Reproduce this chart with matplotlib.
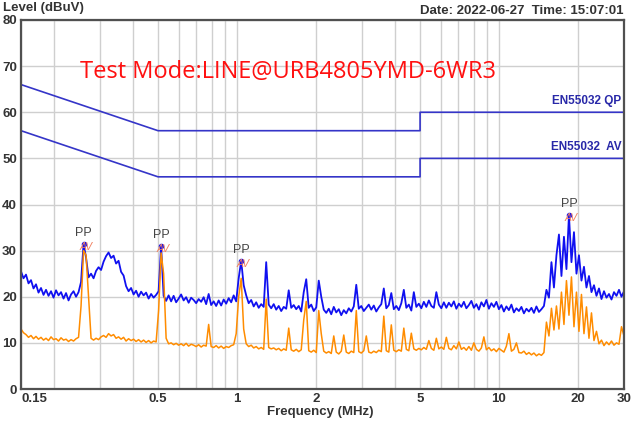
import numpy as np
import matplotlib
matplotlib.use("Agg")
import matplotlib.pyplot as plt
from matplotlib.ticker import FixedLocator, NullFormatter, LogLocator

plt.rcParams['font.family'] = ['Liberation Sans Narrow', 'Liberation Sans', 'DejaVu Sans']

# sweep: 242 points, log spaced from 0.15 MHz to 30 MHz (receiver scan grid)
n_pts = 242
f_start, f_stop = 0.15, 30.0

# peak detector trace (blue), dBuV
pk_level = [
    25.5, 24.0, 24.8, 22.9, 23.6, 21.8, 22.7, 20.9, 21.9, 20.4,
    21.5, 20.2, 21.2, 19.8, 21.4, 20.3, 21.0, 19.6, 20.8, 19.2,
    20.5, 21.2, 20.0, 21.0, 23.2, 31.5, 28.5, 24.2, 25.0, 24.0,
    25.6, 26.4, 25.8, 27.6, 28.8, 29.6, 28.4, 28.9, 27.2, 27.8,
    25.4, 24.6, 22.3, 21.2, 21.9, 20.5, 21.3, 20.0, 21.1, 20.3,
    20.9, 19.6, 20.6, 19.8, 20.4, 21.2, 31.0, 20.2, 19.1, 20.3,
    19.0, 20.2, 18.8, 19.6, 20.5, 19.2, 19.9, 18.7, 19.8, 19.3,
    18.6, 19.5, 18.9, 19.9, 18.4, 20.6, 18.2, 19.0, 18.0, 19.2,
    18.1, 19.4, 18.5, 19.7, 18.8, 20.3, 19.0, 24.0, 27.8, 22.5,
    20.3, 18.6, 19.3, 17.9, 18.8, 17.6, 18.4, 17.8, 27.5, 18.3,
    17.5, 18.4, 17.2, 18.0, 16.9, 17.8, 17.4, 21.4, 17.6, 18.2,
    17.3, 18.0, 16.8, 21.0, 23.8, 17.6, 18.3, 16.9, 17.7, 23.5,
    20.0, 17.2, 16.5, 17.4, 16.2, 17.8, 16.6, 17.3, 16.0, 17.1,
    16.4, 17.5, 16.8, 17.9, 22.6, 17.4, 18.0, 16.9, 17.6, 18.3,
    17.2, 18.1, 16.8, 17.7, 18.4, 21.8, 17.5, 18.2, 20.8, 17.3,
    18.0, 17.1, 18.6, 21.5, 17.6, 18.3, 17.0, 21.0, 17.8, 18.5,
    17.5, 18.9, 17.8, 19.2, 18.0, 17.6, 21.0, 18.3, 17.5, 18.8,
    17.6, 18.7, 17.9, 19.0, 17.4, 18.5, 17.8, 18.9, 17.5, 18.2,
    19.1, 17.6, 18.4, 17.2, 18.8, 17.9, 19.3, 17.4, 18.6, 17.8,
    18.9, 17.3, 18.2, 16.8, 17.9, 17.1, 18.3, 16.6, 17.5, 16.9,
    17.8, 16.4, 17.4, 16.8, 17.6, 16.5, 17.9, 16.7, 17.3, 18.0,
    21.5, 19.8, 27.5, 22.0, 29.0, 33.5, 24.5, 33.0, 26.0, 37.7,
    27.5, 34.0, 25.0, 29.0, 23.5, 26.5, 22.0, 24.5, 21.0, 22.5,
    20.2, 21.8, 19.5, 21.2, 19.8, 20.6, 19.4, 21.0, 20.2, 21.5,
    20.0, 21.2,
]

# average detector trace (orange), dBuV
av_level = [
    13.0, 12.2, 11.8, 11.2, 11.6, 10.9, 11.4, 10.8, 11.2, 10.6,
    11.0, 10.5, 11.3, 10.7, 10.9, 10.4, 11.1, 10.6, 10.8, 10.3,
    10.7, 10.4, 10.9, 11.2, 18.0, 30.0, 29.0, 20.0, 11.0, 10.6,
    11.0, 10.7, 11.3, 11.6, 11.2, 12.0, 11.5, 11.8, 11.0, 11.3,
    10.8, 11.2, 10.4, 10.9, 10.5, 10.8, 10.3, 10.7, 10.2, 10.6,
    10.1, 10.5, 10.0, 10.4, 10.2, 17.0, 29.5, 25.0, 11.0, 9.8,
    10.0, 9.6, 9.9, 9.5, 9.8, 9.4, 9.9, 9.3, 9.7, 9.5,
    9.2, 9.6, 9.1, 9.5, 9.3, 14.0, 9.2, 9.0, 9.4, 8.9,
    9.3, 8.8, 9.2, 9.0, 9.4, 9.6, 12.0, 20.0, 24.0, 13.0,
    9.8, 9.2, 9.5, 8.9, 9.2, 8.7, 9.0, 8.6, 19.5, 9.0,
    8.7, 8.9, 8.5, 8.8, 8.3, 8.7, 8.4, 13.2, 8.5, 8.2,
    8.6, 8.1, 8.5, 15.0, 19.0, 8.3, 8.0, 8.4, 7.9, 17.0,
    12.0, 8.2, 7.8, 8.1, 7.7, 11.5, 8.0, 7.6, 8.2, 11.7,
    8.0, 7.7, 8.2, 7.9, 17.0, 8.1, 7.8, 8.3, 11.5, 8.0,
    7.8, 8.2, 7.9, 8.4, 8.1, 15.8, 8.3, 8.0, 13.9, 8.4,
    8.1, 8.5, 8.2, 13.2, 8.6, 8.3, 12.1, 8.7, 8.4, 8.8,
    8.5, 9.0, 8.6, 10.5, 8.8, 8.4, 11.0, 8.7, 9.1, 8.6,
    11.2, 8.8, 8.5, 9.4, 8.7, 10.2, 8.6, 9.0, 8.4, 9.2,
    8.4, 10.0, 8.6, 8.2, 8.9, 11.3, 8.5, 9.0, 8.3, 8.7,
    8.1, 8.8, 8.4, 8.0, 9.3, 12.0, 8.2, 8.6, 10.0, 7.9,
    7.8, 8.2, 7.5, 7.9, 7.4, 7.8, 7.2, 7.6, 7.3, 7.9,
    14.5, 11.5, 17.5, 12.8, 18.0, 13.0, 21.0, 14.0, 23.5, 16.0,
    24.3, 13.5, 21.0, 12.5, 20.5, 12.0, 17.8, 11.0, 16.5, 10.5,
    12.5, 9.8, 10.6, 9.4, 10.2, 9.6, 10.4, 9.5, 10.0, 9.7,
    13.5, 11.5,
]

# EN55032 class B limits
lim_freq = [0.15, 0.5, 5.0, 5.0, 30.0]
qp_limit = [66, 56, 56, 60, 60]
av_limit = [56, 46, 46, 50, 50]

# marked peaks (index into the sweep)
peak_idx = [25, 56, 88, 219]

x_ticks = [0.15, 0.5, 1, 2, 5, 10, 20, 30]
x_ticklabels = ['0.15', '0.5', '1', '2', '5', '10', '20', '30']
y_ticks = [0, 10, 20, 30, 40, 50, 60, 70, 80]

freq = np.geomspace(f_start, f_stop, n_pts)
pk = np.array(pk_level)
av = np.array(av_level)

fig = plt.figure(figsize=(6.33, 4.25), dpi=100)
ax = fig.add_axes([21/633, 1-389/425, 603/633, 369/425])

ax.set_xscale('log')
ax.set_xlim(f_start, f_stop)
ax.set_ylim(0, 80)

ax.xaxis.set_major_locator(FixedLocator(x_ticks))
ax.xaxis.set_minor_locator(LogLocator(base=10, subs=np.arange(2, 10)))
ax.xaxis.set_minor_formatter(NullFormatter())
ax.set_xticklabels(x_ticklabels)
ax.set_yticks(y_ticks)
ax.grid(True, which='both', axis='x', color='#cfcfcf', lw=1.0)
ax.grid(True, which='major', axis='y', color='#cfcfcf', lw=1.0)
ax.set_axisbelow(True)
ax.tick_params(which='both', length=0, labelsize=9.5, pad=3)
for lab in ax.get_xticklabels() + ax.get_yticklabels():
    lab.set_fontweight('bold')
    lab.set_color('#333333')
ax.get_xticklabels()[0].set_horizontalalignment('left')
for sp in ax.spines.values():
    sp.set_color('#505050')
    sp.set_linewidth(1.6)

# limit lines
ax.plot(lim_freq, qp_limit, color='#3535c8', lw=1.2)
ax.plot(lim_freq, av_limit, color='#3535c8', lw=1.2)
ax.text(29.3, 61.2, 'EN55032 QP', color='#2828a8', fontsize=8.5,
        fontweight='bold', ha='right', va='bottom')
ax.text(29.3, 51.2, 'EN55032  AV', color='#2828a8', fontsize=8.5,
        fontweight='bold', ha='right', va='bottom')

# traces
ax.plot(freq, pk, color='#1010f0', lw=1.3)
ax.plot(freq, av, color='#ff8c00', lw=1.1)

# peak markers
for i in peak_idx:
    ax.plot(freq[i], pk[i], 'o', color='#1010f0', ms=3)
    ax.text(freq[i], pk[i] + 1.0, 'PP', color='#444444', fontsize=9,
            ha='center', va='bottom')
    ax.text(freq[i] * 1.02, pk[i] - 1.8, 'AV', color='#f08060', fontsize=7.5,
            style='italic', ha='center', va='bottom')

# texts
fig.text(3/633, 1-8/425, 'Level (dBuV)', fontsize=9.5, fontweight='bold',
         color='#333333', ha='left', va='center')
fig.text(624/633, 1-11/425, 'Date: 2022-06-27  Time: 15:07:01', fontsize=9.5,
         fontweight='bold', color='#333333', ha='right', va='center')
fig.text(320/633, 1-412/425, 'Frequency (MHz)', fontsize=9.5, fontweight='bold',
         color='#333333', ha='center', va='center')
fig.text(80/633, 1-72/425, 'Test Mode:LINE@URB4805YMD-6WR3', fontsize=17,
         family=['Open Sans', 'DejaVu Sans'], color='#ff1010',
         ha='left', va='center')

fig.savefig('out.png', dpi=100)
